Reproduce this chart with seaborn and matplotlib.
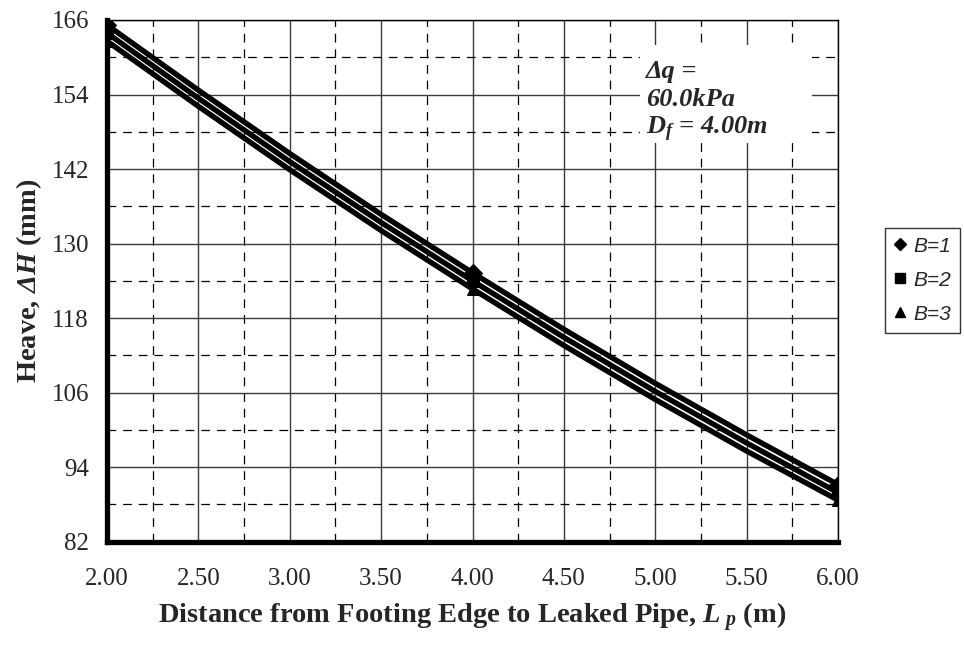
import matplotlib
matplotlib.use("Agg")
import matplotlib.pyplot as plt
from matplotlib.lines import Line2D
from matplotlib.patches import Rectangle
import numpy as np
import pandas as pd
import seaborn as sns

# Heave vs. distance from footing edge to the leaked pipe, for three footing widths
distance_m = [2.0, 2.5, 3.0, 3.5, 4.0, 4.5, 5.0, 5.5, 6.0]
heave_b1 = [165.2, 154.7, 144.5, 134.7, 125.3, 116.2, 107.5, 99.2, 91.2]
heave_b2 = [163.9, 153.4, 143.2, 133.4, 124.0, 114.9, 106.2, 97.9, 89.9]
heave_b3 = [162.6, 152.1, 141.9, 132.1, 122.7, 113.6, 104.9, 96.6, 88.7]
series_labels = ["B=1", "B=2", "B=3"]
series_markers = ["D", "s", "^"]
marker_points = [2.0, 4.0, 6.0]

x_ticks = [2.0, 2.5, 3.0, 3.5, 4.0, 4.5, 5.0, 5.5, 6.0]
y_ticks = [82, 94, 106, 118, 130, 142, 154, 166]

sns.set_style("white")
plt.rcParams["font.family"] = ["Liberation Serif", "DejaVu Serif"]
plt.rcParams["mathtext.fontset"] = "custom"
plt.rcParams["mathtext.rm"] = "Liberation Serif:bold:italic"
plt.rcParams["mathtext.it"] = "Liberation Serif:bold:italic"
plt.rcParams["mathtext.bf"] = "Liberation Serif:bold"

df = pd.DataFrame({
    "distance": distance_m * 3,
    "heave": heave_b1 + heave_b2 + heave_b3,
    "series": np.repeat(series_labels, len(distance_m)),
})

W, H = 964, 649
L, R, T, B = 107, 838, 20, 541.7
fig = plt.figure(figsize=(W / 100, H / 100), dpi=100)
ax = fig.add_axes([L / W, 1 - B / H, (R - L) / W, (B - T) / H])

for label, mk in zip(series_labels, series_markers):
    sub = df[df["series"] == label]
    idx = [i for i, v in enumerate(sub["distance"]) if v in marker_points]
    sns.lineplot(data=sub, x="distance", y="heave", ax=ax, color="black",
                 linewidth=3.9, marker=mk, markersize=9, markevery=idx,
                 markeredgecolor="black", markerfacecolor="black",
                 solid_capstyle="butt", zorder=5, legend=False)

ax.set_xlim(2.0, 6.0)
ax.set_ylim(82, 166)
ax.set_xticks(x_ticks)
ax.set_yticks(y_ticks)
ax.set_xticks(np.arange(2.25, 6.0, 0.5), minor=True)
ax.set_yticks(np.arange(88, 166, 12), minor=True)
ax.set_xticklabels([f"{v:.2f}" for v in x_ticks])
ax.set_yticklabels([str(v) for v in y_ticks])

ax.grid(which="major", color="#3a3a3a", linewidth=1.0, linestyle="-")
ax.grid(which="minor", color="black", linewidth=0.9, linestyle=(0, (7, 5.5)))

ax.tick_params(axis="x", which="major", direction="in", length=6, width=3.5,
               labelsize=18, pad=19, color="black")
ax.tick_params(axis="y", which="major", direction="out", length=6, width=3.5,
               labelsize=18, pad=7, color="black")
ax.tick_params(which="minor", length=0)

for side in ["left", "bottom"]:
    ax.spines[side].set_linewidth(3.8)
    ax.spines[side].set_color("black")
for side in ["top", "right"]:
    ax.spines[side].set_linewidth(1.0)
    ax.spines[side].set_color("black")

ax.set_xlabel("Distance from Footing Edge to Leaked Pipe, $L_{\\ p}$ (m)",
              fontsize=20.5, fontweight="bold", labelpad=7)
ax.set_ylabel("Heave, $\\Delta H$ (mm)", fontsize=20.5, fontweight="bold", labelpad=5)

# Load / depth note in a white box; the box cuts off its last line
def ax_x(px):
    return (px - L) / (R - L)

def ax_y(py):
    return (B - py) / (B - T)

bx0, bx1 = ax_x(640), ax_x(812)
by0, by1 = ax_y(143), ax_y(45)
note_box = Rectangle((bx0, by0), bx1 - bx0, by1 - by0, transform=ax.transAxes,
                     facecolor="white", edgecolor="none", zorder=3)
ax.add_patch(note_box)
note = ax.text(ax_x(646), ax_y(60), "Δq =\n60.0kPa\nD$_f$ = 4.00m",
               transform=ax.transAxes, fontsize=19, fontweight="bold",
               fontstyle="italic", ha="left", va="top", linespacing=1.25,
               multialignment="left", zorder=4)
note.set_clip_path(note_box)
note.set_clip_on(True)

handles = [Line2D([], [], linestyle="none", marker=mk, color="black",
                  markersize=7 if mk != "D" else 6)
           for mk in series_markers]
leg = fig.legend(handles, series_labels, loc="upper left",
                 bbox_to_anchor=(885 / W, 1 - 228 / H),
                 prop={"family": "Liberation Sans", "style": "italic", "size": 15},
                 frameon=True, fancybox=False, edgecolor="black",
                 handlelength=0.6, handletextpad=0.35, labelspacing=0.72,
                 borderpad=0.42, borderaxespad=0)
leg.get_frame().set_linewidth(1.0)

fig.savefig("out.png", dpi=100)
